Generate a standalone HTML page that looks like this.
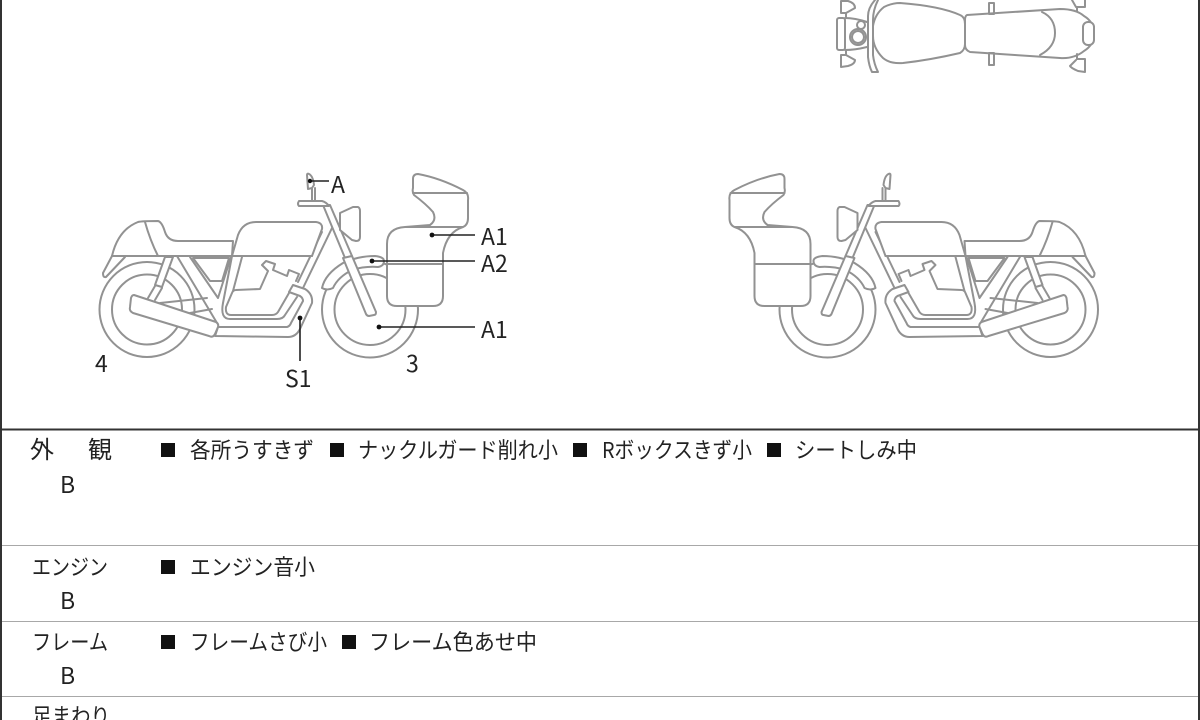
<!DOCTYPE html>
<html lang="ja">
<head>
<meta charset="utf-8">
<style>
html,body{margin:0;padding:0;background:#fff;width:1200px;height:720px;overflow:hidden}
svg{display:block;filter:blur(0.35px)}
.l{fill:none;stroke:#929292;stroke-width:2;stroke-linejoin:round;stroke-linecap:round}
.w{fill:#fff;stroke:#929292;stroke-width:2;stroke-linejoin:round;stroke-linecap:round}
.ld{stroke:#222;stroke-width:1.600;fill:none}
text{font-family:"Liberation Sans","Noto Sans CJK JP",sans-serif;fill:#222}
.j{font-family:"Noto Sans CJK JP","Liberation Sans",sans-serif;font-size:22px;font-weight:400}
.k{font-size:24px}
.a{font-family:"Noto Sans CJK JP","Liberation Sans",sans-serif;font-size:23px}
</style>
</head>
<body>
<svg width="1200" height="720" viewBox="0 0 1200 720" xmlns="http://www.w3.org/2000/svg">
<rect width="1200" height="720" fill="#fff"/>
<defs>
<g id="bike">
  <circle class="w" cx="147" cy="309.500" r="47.500"/>
  <circle class="l" cx="147" cy="309.500" r="35"/>
  <circle class="w" cx="370" cy="309.500" r="48"/>
  <circle class="l" cx="370" cy="309.500" r="35.500"/>
  <!-- fender -->
  <path class="w" d="M322 288Q325 274 343 263Q358 256 375 256Q384 257 384 261Q384 266 378 267Q365 266 352 270Q338 277 333 288Q327 291 322 288Z"/>
  <!-- tail -->
  <path class="w" d="M112 256Q118 230 138 222Q142 221 158 221Q162 222 165 232Q168 241 178 241L233 241L232 256Z"/>
  <path class="l" d="M145 222Q150 240 158 256"/>
  <path class="w" d="M112 256L103 273Q103 278 106 277L125 257"/>
  <!-- frame -->
  <path class="w" d="M165 257L155 285L162 287L173 257Z"/>
  <path class="l" d="M155 286L148 298M162 288L155 300"/>
  <path class="l" d="M177 256L217 323M190 257L218 298L231 257"/>
  <path class="l" d="M193 258L210 281L222 281L229 258Z"/>
  <path class="l" d="M242 257L233 291"/>
  <path class="l" d="M160 303L207 298M190 313L212 309"/>
  <!-- engine and pipes -->
  <path class="l" d="M232 256L223 303Q220 319 230 319L277 319Q283 319 285 315L297 297"/>
  <path class="l" d="M289 293L278 312Q276 315 272 315L231 315Q225 315 226 307L232 293Q233 290 236 290L260 289L268 271L262 265L266 261L275 264L273 270L287 276L289 270L299 274L296 281"/>
  <path class="l" d="M322 232L298 282M332 228L303 288"/>
  <!-- exhaust -->
  <path class="w" d="M218 327L287 327Q290 326 291 323L303 301Q303 298 300 296L289 292L293 285L305 289Q313 294 312 303L300 329Q296 337 288 337L215 336Z"/>
  <path class="w" d="M134 295L216 322Q219 324 218 327L215 334Q213 338 209 336L133 313Q129 311 130 307L131 298Q132 295 134 295Z"/>
  <!-- tank -->
  <path class="w" d="M232 256L238 235Q243 222 256 222L316 222Q323 223 322 229L312 256Z"/>
  <path class="l" d="M112 256L312 256"/>
  <!-- fork -->
  <path class="w" d="M323 205L345 258L352 256L330 205Z"/>
  <path class="w" d="M343 258L352 256L376 312Q376 315 374 315L369 316Q367 316 366 314Z"/>
  <path class="w" d="M299 201L322 201Q326 202 329 206L323 206L299 206Q297 204 299 201Z"/>
  <path class="w" d="M340 213L353 207L358 207Q360 208 360 211L360 237Q360 241 356 241L352 240L340 230Z"/>
  <path class="l" d="M312 188L312 200M315 188L315 200"/>
  <path class="w" d="M307 175Q307 173 309 174Q313 176 314 185L312 188L308 189Z"/>
  <!-- box -->
  <path class="w" d="M413 179Q413 174 418 174Q440 178 463 190Q469 193 468 200L468 218Q468 225 463 227Q447 232 443 253L443 296Q443 306 433 306L397 306Q387 306 387 296L387 244Q387 228 405 227L430 225Q437 220 433 212Q426 204 414 195Q412 192 413 188Z"/>
  <path class="l" d="M413 193L467 193M405 227L463 227M387 264L443 264"/>
</g>
</defs>

<use href="#bike"/>
<use href="#bike" transform="translate(1197.500,0) scale(-1,1)"/>

<!-- top view -->
<g>
  <path class="l" d="M875 0Q868 8 868 16L868 57Q869 66 872 72L878 72Q874 64 873 55L873 20Q873 10 878 0"/>
  <path class="w" d="M900 3Q940 6 960 15Q965 17 965 24L965 44Q965 50 960 53Q930 60 903 63Q890 64 883 58Q873 48 873 36L873 26Q875 14 884 7Q892 3 900 3Z"/>
  <path class="w" d="M967 15L1060 9Q1076 9 1084 16Q1094 22 1094 33Q1094 45 1084 51Q1074 59 1060 58L970 52Q965 50 965 45L965 20Q965 16 967 15Z"/>
  <path class="l" d="M1042 12Q1055 18 1055 33Q1055 47 1040 55"/>
  <rect class="w" x="1083" y="22" width="11" height="23" rx="5"/>
  <rect class="l" x="989" y="3" width="5" height="11"/>
  <rect class="l" x="989" y="53" width="5" height="12"/>
  <path class="l" d="M1072 0L1076 7L1085 7L1085 0M1077 7L1077 11"/>
  <path class="l" d="M1077 54L1077 59L1085 59L1085 72L1078 71Q1071 68 1070 66L1076 60"/>
  <rect class="l" x="837" y="18" width="8" height="32" rx="2"/>
  <path class="l" d="M841 1L848 1Q855 3 855 8L846 13L846 18M841 1L841 13L846 13"/>
  <path class="l" d="M846 50L846 55L855 60Q855 64 848 66L841 67L841 55L846 55"/>
  <path class="l" d="M845 18Q855 18 867 22M845 50Q855 50 867 47"/>
  <circle class="l" cx="858" cy="37" r="8"/>
  <circle class="l" cx="858" cy="37" r="6"/>
  <circle class="l" cx="861" cy="25" r="4"/>
</g>

<!-- leaders -->
<g class="ld">
  <path d="M311 181H329M432 235H475M372 261H475M379 327H475M300 318V361"/>
</g>
<g fill="#111">
  <circle cx="310" cy="181" r="2.200"/><circle cx="432" cy="235" r="2.400"/><circle cx="372" cy="261" r="2.400"/><circle cx="379" cy="327" r="2.400"/><circle cx="300" cy="318" r="2.400"/>
</g>
<g>
  <text class="a" x="331" y="193">A</text>
  <text class="a" x="481" y="245">A1</text>
  <text class="a" x="481" y="272">A2</text>
  <text class="a" x="481" y="338">A1</text>
  <text class="a" x="406" y="372">3</text>
  <text class="a" x="95" y="372">4</text>
  <text class="a" x="285" y="387">S1</text>
</g>

<!-- table lines -->
<rect x="0" y="0" width="2" height="720" fill="#333"/>
<rect x="1198" y="0" width="2" height="720" fill="#333"/>
<rect x="0" y="428.500" width="1200" height="2" fill="#333"/>
<rect x="2" y="545" width="1196" height="1" fill="#a8a8a8"/>
<rect x="2" y="621" width="1196" height="1" fill="#a8a8a8"/>
<rect x="2" y="696" width="1196" height="1" fill="#a8a8a8"/>

<!-- row texts -->
<text class="j k" x="30" y="458">外</text>
<text class="j k" x="88" y="458">観</text>
<text class="a" x="60" y="493">B</text>
<text class="j" x="32" y="575" textLength="76" lengthAdjust="spacingAndGlyphs">エンジン</text>
<text class="a" x="60" y="609">B</text>
<text class="j" x="32" y="650" textLength="76" lengthAdjust="spacingAndGlyphs">フレーム</text>
<text class="a" x="60" y="684">B</text>
<text class="j" x="32" y="724" textLength="78" lengthAdjust="spacingAndGlyphs">足まわり</text>

<g fill="#111">
<rect x="161" y="443" width="14" height="14"/>
<rect x="330" y="443" width="14" height="14"/>
<rect x="573" y="443" width="14" height="14"/>
<rect x="767" y="443" width="14" height="14"/>
<rect x="161" y="560" width="14" height="14"/>
<rect x="161" y="635" width="14" height="14"/>
<rect x="342" y="635" width="14" height="14"/>
</g>
<text class="j" x="190" y="458" textLength="124" lengthAdjust="spacingAndGlyphs">各所うすきず</text>
<text class="j" x="358" y="458" textLength="200" lengthAdjust="spacingAndGlyphs">ナックルガード削れ小</text>
<text class="j" x="602" y="458" textLength="150" lengthAdjust="spacingAndGlyphs">Rボックスきず小</text>
<text class="j" x="795" y="458" textLength="122" lengthAdjust="spacingAndGlyphs">シートしみ中</text>
<text class="j" x="190" y="575" textLength="125" lengthAdjust="spacingAndGlyphs">エンジン音小</text>
<text class="j" x="190" y="650" textLength="137" lengthAdjust="spacingAndGlyphs">フレームさび小</text>
<text class="j" x="369" y="650" textLength="168" lengthAdjust="spacingAndGlyphs">フレーム色あせ中</text>
</svg>
</body>
</html>
